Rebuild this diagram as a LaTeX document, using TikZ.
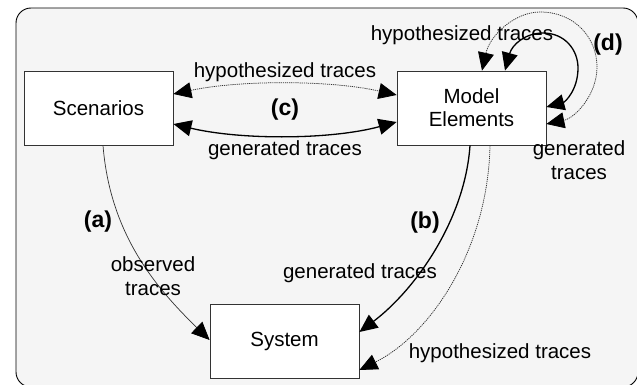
\documentclass[tikz,border=0pt]{standalone}
\usepackage{fontspec}
\setmainfont{Liberation Sans}
\usetikzlibrary{arrows.meta,calc}
\definecolor{bgfill}{HTML}{F5F5F5}
\begin{document}
\begin{tikzpicture}[x=1pt,y={(0,-1pt)},
  >={Triangle[length=18pt,width=16pt,color=black]},
  box/.style={draw=black!80,line width=0.8pt,fill=white,minimum width=149pt,minimum height=74pt,inner sep=0pt,font=\fontsize{20.5}{23}\selectfont,align=center},
  lbl/.style={font=\fontsize{20.5}{24.5}\selectfont,align=center,inner sep=0pt},
  tag/.style={font=\fontsize{23}{26}\selectfont\bfseries,inner sep=0pt},
  gen/.style={draw=black,line width=1.3pt},
  obs/.style={draw=black!80,line width=0.7pt},
  hyp/.style={draw=black!80,line width=0.75pt,dash pattern=on 1.2pt off 0.9pt},
]
\useasboundingbox (0,0) rectangle (637,385);
\begin{scope}
\clip (0,0) rectangle (637,385);
\draw[fill=bgfill,line width=0.9pt,rounded corners=15pt] (16,8) rectangle (638,387);
\end{scope}

\node[box] (scen) at (98.5,108) {Scenarios};
\node[box] (model) at (471.5,108) {Model\\Elements};
\node[box] (sys) at (284.5,341) {System};

% (c)
\draw[hyp,<->] ($(scen.east)+(0,-14)$) .. controls (240,80) and (330,80) .. ($(model.west)+(0,-13)$);
\draw[gen,<->] ($(scen.east)+(0,16)$) .. controls (240,140) and (330,140) .. ($(model.west)+(0,14)$);
\node[lbl] (lc1) at (285,72) {hypothesized traces};
\node[tag] (tc) at (285,110) {(c)};
\node[lbl] (lc2) at (285,150) {generated traces};

% (a)
\draw[obs,->] ($(scen.south)+(4.5,0)$) .. controls (110,232) and (153,285) .. ($(sys.west)+(0,-1)$);
\node[tag] (ta) at (98,222) {(a)};
\node[lbl] (la) at (153,276) {observed\\traces};

% (b)
\draw[gen,->] ($(model.south)+(-1.5,0)$) .. controls (465,220) and (415,290) .. ($(sys.east)+(0,-9)$);
\draw[hyp,->] ($(model.south)+(18.5,0)$) .. controls (488,250) and (430,335) .. ($(sys.east)+(0,29)$);
\node[tag] (tb) at (425,223) {(b)};
\node[lbl] (lb1) at (360,273) {generated traces};
\node[lbl] (lb2) at (500,353) {hypothesized traces};

% (d)
\draw[gen,<->] ($(model.north)+(33.5,0)$) .. controls (512,45) and (525,33) .. (543,33)
   .. controls (565,33) and (578,50) .. (578,68)
   .. controls (578,90) and (565,102) .. ($(model.east)+(0,-1)$);
\draw[hyp,<->] ($(model.north)+(10.5,0)$) .. controls (490,35) and (515,12) .. (540,12)
   .. controls (575,12) and (597,38) .. (597,67)
   .. controls (597,95) and (575,118) .. ($(model.east)+(0,16)$);
\node[lbl] (ld1) at (462,35) {hypothesized traces};
\node[tag] (td) at (608,45) {(d)};
\node[lbl] (ld2) at (579,160) {generated\\traces};
\end{tikzpicture}
\end{document}
